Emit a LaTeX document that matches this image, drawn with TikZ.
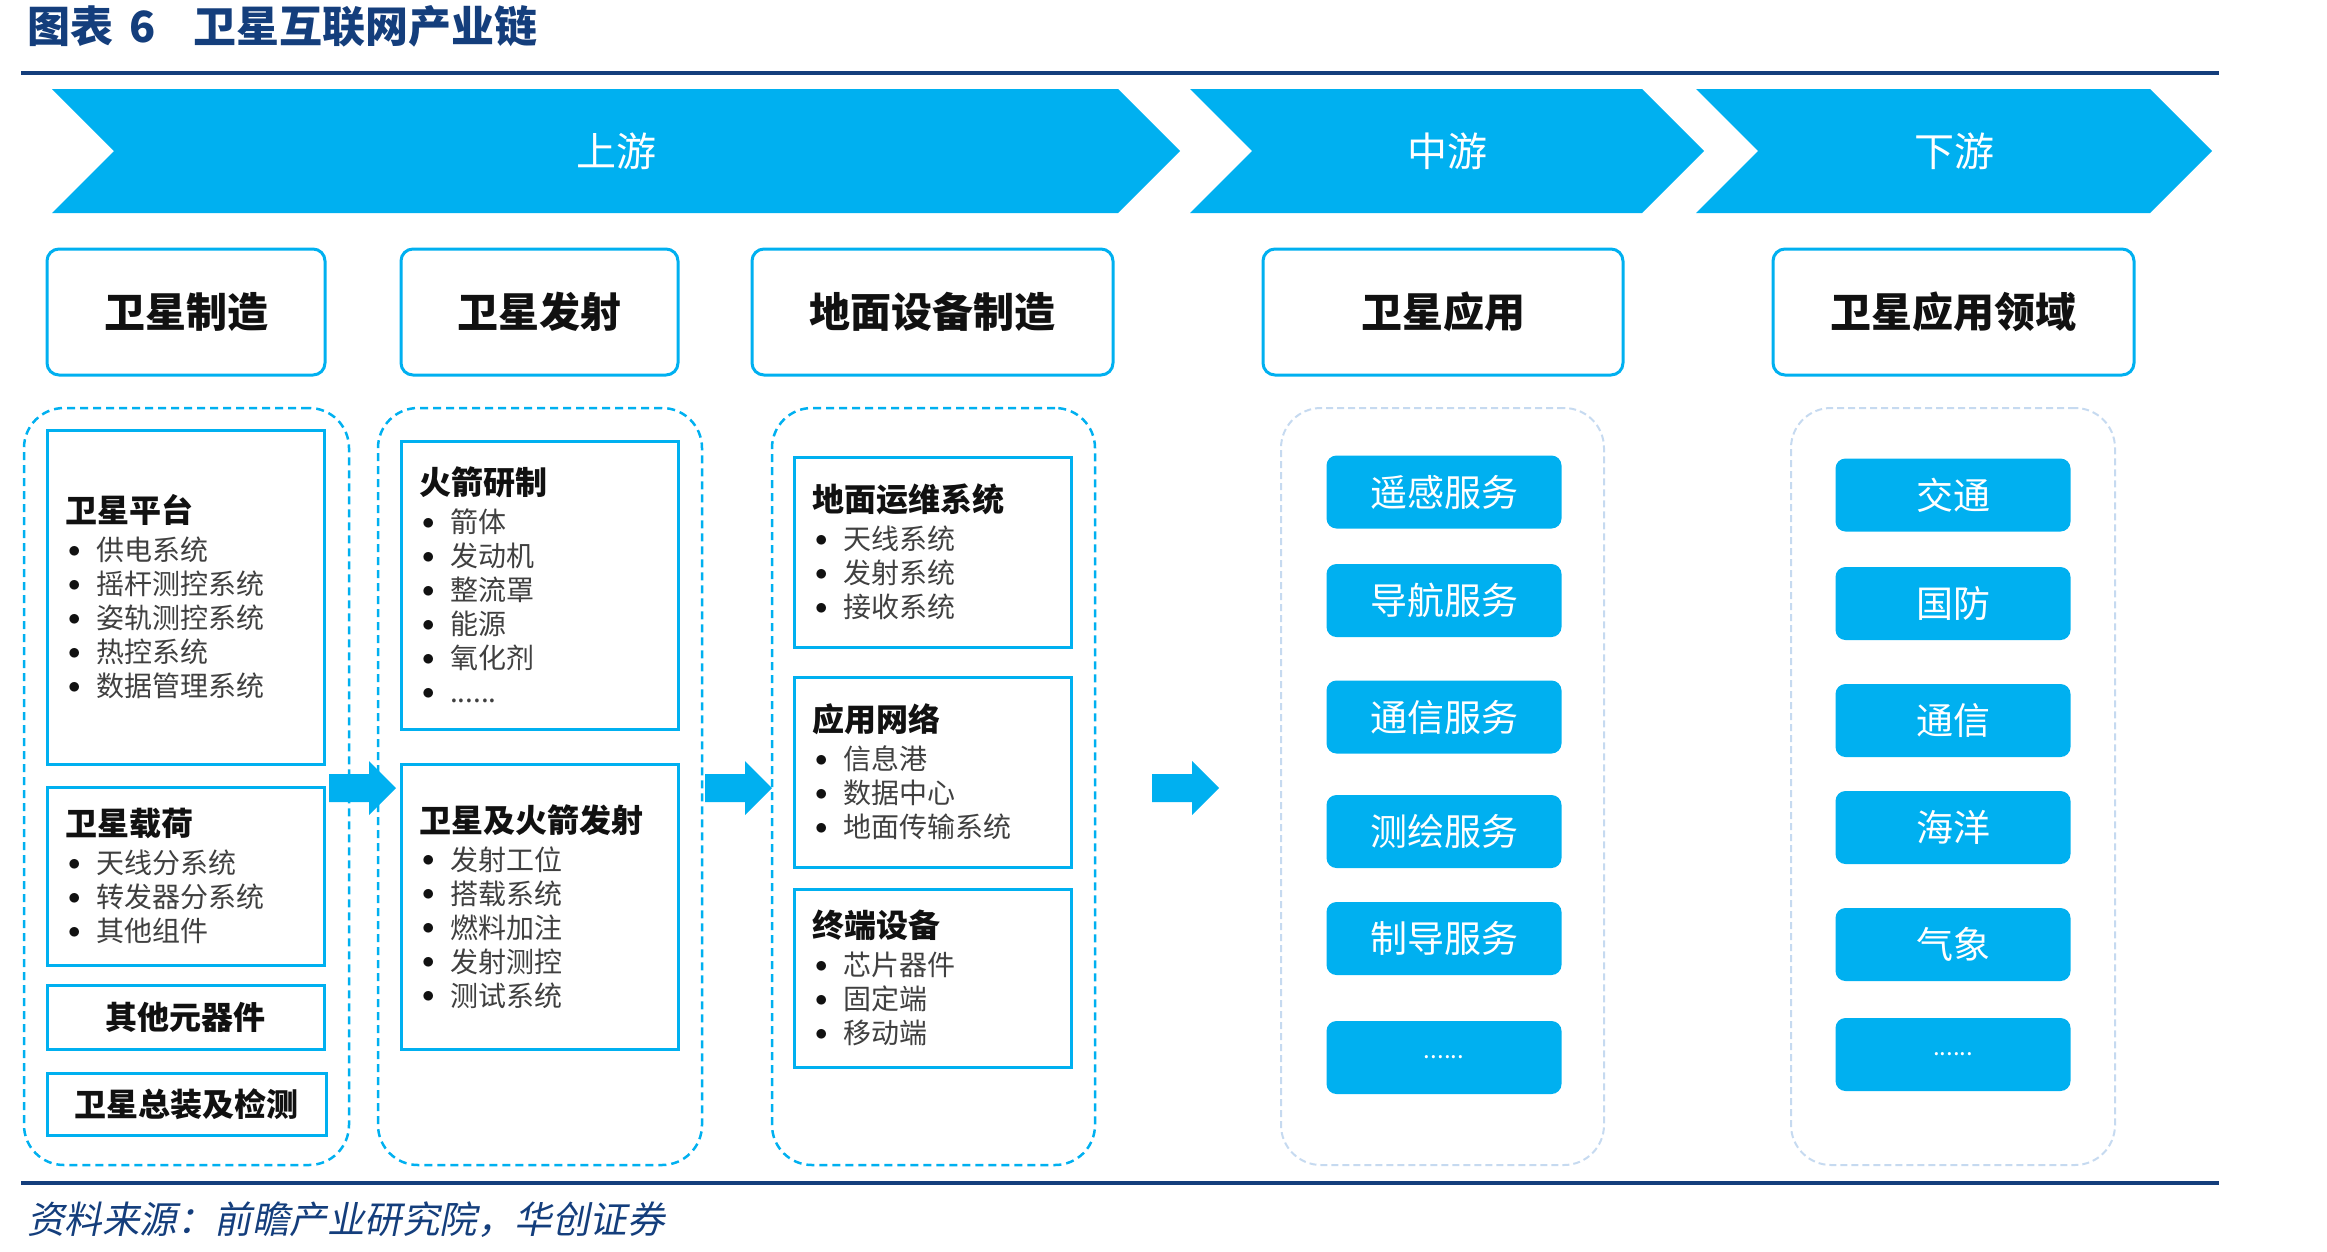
\documentclass[tikz,border=0pt]{standalone}
\usepackage{fontspec}
\setmainfont{Noto Sans CJK SC}
\newfontfamily\slantfont{Noto Sans CJK SC}[FakeSlant=0.2]
\usetikzlibrary{positioning}
\definecolor{sky}{HTML}{00B0F0}
\definecolor{navy}{HTML}{143E7C}
\definecolor{mist}{HTML}{C6DAF0}
\definecolor{ink}{HTML}{111111}
\definecolor{graytext}{HTML}{404040}
\newcommand{\itm}[1]{\makebox[31pt][l]{\hspace{3pt}\raisebox{3.5pt}{\textcolor{ink}{\fontsize{25}{25}\selectfont$\bullet$}}}\textcolor{graytext}{#1}}
\newcommand{\ttl}[1]{{\fontsize{32}{34}\selectfont\bfseries\textcolor{ink}{#1}}}

\begin{document}
\begin{tikzpicture}[x=1pt, y=-1pt,
    band/.style={fill=sky, draw=none},
    bandtext/.style={text=white, font=\fontsize{40}{48}\selectfont},
    head/.style={draw=sky, line width=3pt, rounded corners=12pt, fill=white,
      minimum height=126pt, inner sep=0pt, text=ink,
      font=\fontsize{41}{48}\selectfont\bfseries},
    lane/.style={draw=sky, line width=2.5pt, dash pattern=on 8pt off 5pt,
      rounded corners=40pt, minimum height=757pt, inner sep=0pt},
    softlane/.style={lane, draw=mist, line width=2pt, dash pattern=on 7pt off 4pt},
    part/.style={draw=sky, line width=3pt, fill=white, minimum width=277pt,
      inner xsep=18pt, inner ysep=0pt, text width=241pt, align=left,
      font=\fontsize{28}{34}\selectfont},
    solo/.style={draw=sky, line width=3pt, fill=white, minimum width=277pt,
      inner sep=0pt, text=ink, font=\fontsize{32}{38}\selectfont\bfseries},
    tile/.style={fill=sky, rounded corners=10pt, minimum width=235pt,
      minimum height=73pt, inner sep=0pt, text=white,
      font=\fontsize{37}{44}\selectfont},
    dots/.style={tile, font=\fontsize{24}{28}\selectfont},
    push/.style={fill=sky, draw=none},
    rule/.style={draw=navy, line width=4pt},
  ]
  \useasboundingbox (0,0) rectangle (2327,1251);

  % ------------------------------------------------------------ title
  \node[anchor=west, inner sep=0pt, text=navy, font=\fontsize{43}{50}\selectfont\bfseries]
    (title) at (27,26) {图表\hspace{16pt}6\hspace{38pt}卫星互联网产业链};
  \coordinate (rtl) at (21,73);
  \coordinate (rtr) at (2219,73);
  \draw[rule] (rtl) -- (rtr);

  % ------------------------------------------------------------ chevrons
  \fill[band] (52,89) -- (1118,89) -- (1180,151) -- (1118,213) -- (52,213) -- (114,151) -- cycle;
  \fill[band] (1190,89) -- (1642,89) -- (1704,151) -- (1642,213) -- (1190,213) -- (1252,151) -- cycle;
  \fill[band] (1696,89) -- (2150,89) -- (2212,151) -- (2150,213) -- (1696,213) -- (1758,151) -- cycle;
  \node[bandtext] (up)   at (616,151)  {上游};
  \node[bandtext] (mid)  at (1447,151) {中游};
  \node[bandtext] (down) at (1954,151) {下游};

  % ------------------------------------------------------------ headers
  \node[head, minimum width=278pt] (hmake)   at (186,312)    {卫星制造};
  \node[head, minimum width=277pt] (hlaunch) at (539.5,312)  {卫星发射};
  \node[head, minimum width=361pt] (hground) at (932.5,312)  {地面设备制造};
  \node[head, minimum width=360pt] (huse)    at (1443,312)   {卫星应用};
  \node[head, minimum width=361pt] (hfield)  at (1953.5,312) {卫星应用领域};

  % ------------------------------------------------------------ lanes
  \node[lane, minimum width=325pt]     (lmake)   at (186.5,786.5)  {};
  \node[lane, minimum width=324pt]     (llaunch) at (540,786.5)    {};
  \node[lane, minimum width=323pt]     (lground) at (933.5,786.5)  {};
  \node[softlane, minimum width=323pt] (luse)    at (1442.5,786.5) {};
  \node[softlane, minimum width=324pt] (lfield)  at (1953,786.5)   {};

  % ------------------------------------------------------------ upstream parts
  \node[part, minimum height=334pt] (platform) at (185.5,597) {\ttl{卫星平台}\\[4pt]
    \itm{供电系统}\\ \itm{摇杆测控系统}\\ \itm{姿轨测控系统}\\ \itm{热控系统}\\ \itm{数据管理系统}};
  \node[part, minimum height=178pt] (payload) at (185.5,876) {\ttl{卫星载荷}\\[4pt]
    \itm{天线分系统}\\ \itm{转发器分系统}\\ \itm{其他组件}};
  \node[solo, minimum height=64pt] (parts) at (185.5,1017) {其他元器件};
  \node[solo, minimum height=62pt, minimum width=279pt] (assembly) at (186.5,1104) {卫星总装及检测};

  \node[part, minimum height=288pt] (rocket) at (539.5,585) {\ttl{火箭研制}\\[4pt]
    \itm{箭体}\\ \itm{发动机}\\ \itm{整流罩}\\ \itm{能源}\\ \itm{氧化剂}\\ \itm{......}};
  \node[part, minimum height=285pt] (launch) at (539.5,906.5) {\ttl{卫星及火箭发射}\\[4pt]
    \itm{发射工位}\\ \itm{搭载系统}\\ \itm{燃料加注}\\ \itm{发射测控}\\ \itm{测试系统}};

  \node[part, minimum height=190pt] (ops) at (932.5,552) {\ttl{地面运维系统}\\[4pt]
    \itm{天线系统}\\ \itm{发射系统}\\ \itm{接收系统}};
  \node[part, minimum height=190pt] (net) at (932.5,772) {\ttl{应用网络}\\[4pt]
    \itm{信息港}\\ \itm{数据中心}\\ \itm{地面传输系统}};
  \node[part, minimum height=178pt] (term) at (932.5,978) {\ttl{终端设备}\\[4pt]
    \itm{芯片器件}\\ \itm{固定端}\\ \itm{移动端}};

  % ------------------------------------------------------------ services
  \node[tile] (remote) at (1444,492)    {遥感服务};
  \node[tile] (navi)   at (1444,600.5)  {导航服务};
  \node[tile] (comm)   at (1444,717)    {通信服务};
  \node[tile] (survey) at (1444,831.5)  {测绘服务};
  \node[tile] (guide)  at (1444,938.5)  {制导服务};
  \node[dots] (more)   at (1444,1057.5) {......};

  % ------------------------------------------------------------ fields
  \node[tile] (traffic) at (1953,495)    {交通};
  \node[tile] (defense) at (1953,603.5)  {国防};
  \node[tile] (telecom) at (1953,720.5)  {通信};
  \node[tile] (ocean)   at (1953,827.5)  {海洋};
  \node[tile] (weather) at (1953,944.5)  {气象};
  \node[dots] (others)  at (1953,1054.5) {......};

  % ------------------------------------------------------------ block arrows
  \foreach \ax in {329,705,1152} {
    \fill[push] (\ax,774) -- ++(40,0) -- ++(0,-13) -- ++(27,27) -- ++(-27,27)
      -- ++(0,-13) -- ++(-40,0) -- cycle;
  }

  % ------------------------------------------------------------ source
  \coordinate (rbl) at (21,1183);
  \coordinate (rbr) at (2219,1183);
  \draw[rule] (rbl) -- (rbr);
  \node[anchor=west, inner sep=0pt, text=navy, font=\fontsize{37.5}{44}\slantfont]
    (source) at (27,1220) {资料来源：前瞻产业研究院，华创证券};
\end{tikzpicture}
\end{document}
